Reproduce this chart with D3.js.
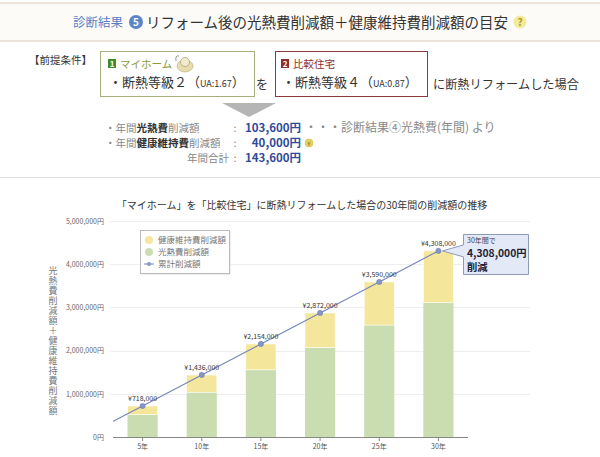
<!DOCTYPE html>
<html>
<head>
<meta charset="utf-8">
<script src="https://cdn.jsdelivr.net/npm/d3@7/dist/d3.min.js"></script>
<style>
  html, body { margin: 0; padding: 0; background: #fff; }
  svg { display: block; font-family: "Noto Sans CJK JP", "Noto Sans", sans-serif; }
</style>
</head>
<body>
<svg id="chart" width="600" height="457"></svg>
<script>
// chart data
var years = ['5年', '10年', '15年', '20年', '25年', '30年'];
var energySaving = [518000, 1036000, 1554000, 2072000, 2590000, 3108000];
var healthSaving = [200000, 400000, 600000, 800000, 1000000, 1200000];
var cumulative = [718000, 1436000, 2154000, 2872000, 3590000, 4308000];
var yTicks = [0, 1000000, 2000000, 3000000, 4000000, 5000000];
var legendLabels = ['健康維持費削減額', '光熱費削減額', '累計削減額'];

var GREEN = '#c9ddb1',
    YELLOW = '#f4e79c',
    LINE = '#7584b8';

var svg = d3.select('#chart');

/* ---------- header ---------- */
var head = svg.append('g');
head.append('rect').attr('x', 0).attr('y', 3).attr('width', 600).attr('height', 38).attr('fill', '#fdfbf7');
head.append('line').attr('x1', 0).attr('x2', 600).attr('y1', 3).attr('y2', 3).attr('stroke', '#e6dccb').attr('stroke-width', 1.5);
head.append('line').attr('x1', 0).attr('x2', 600).attr('y1', 41).attr('y2', 41).attr('stroke', '#e6dccb').attr('stroke-width', 1.5);

head.append('text').attr('x', 73).attr('y', 27).attr('font-size', 12.5).attr('fill', '#5a7ec6').text('診断結果');
head.append('circle').attr('cx', 136).attr('cy', 22).attr('r', 7).attr('fill', '#5b86c8');
head.append('text').attr('x', 136).attr('y', 26).attr('text-anchor', 'middle').attr('font-size', 10)
  .attr('font-weight', 'bold').attr('fill', '#fff').text('5');
head.append('text').attr('x', 146).attr('y', 27.5).attr('font-size', 14.5).attr('fill', '#333')
  .text('リフォーム後の光熱費削減額＋健康維持費削減額の目安');
head.append('circle').attr('cx', 520).attr('cy', 22).attr('r', 6.5).attr('fill', '#f3eb9c');
head.append('text').attr('x', 520).attr('y', 26).attr('text-anchor', 'middle').attr('font-size', 10)
  .attr('font-weight', 'bold').attr('fill', '#b29a2a').text('?');

/* ---------- premise ---------- */
var pre = svg.append('g');
pre.append('text').attr('x', 29).attr('y', 64).attr('font-size', 10.5).attr('fill', '#333').text('【前提条件】');

// box 1
pre.append('rect').attr('x', 100.5).attr('y', 51.5).attr('width', 154).attr('height', 45)
  .attr('fill', '#fff').attr('stroke', '#a6ae7c');
pre.append('rect').attr('x', 108).attr('y', 59).attr('width', 8).attr('height', 9).attr('fill', '#3f8a2c');
pre.append('text').attr('x', 112).attr('y', 66.5).attr('text-anchor', 'middle').attr('font-size', 8)
  .attr('font-weight', 'bold').attr('fill', '#fff').text('1');
pre.append('text').attr('x', 120).attr('y', 68).attr('font-size', 10.5).attr('fill', '#8c9a3a').text('マイホーム');
// small avatar icon
var ic = pre.append('g').attr('transform', 'translate(185,64)');
ic.append('ellipse').attr('rx', 8).attr('ry', 6).attr('cy', 2).attr('fill', '#e7dcae').attr('stroke', '#b8a874').attr('stroke-width', 0.6);
ic.append('circle').attr('r', 4.5).attr('cy', -2).attr('fill', '#f3ead0').attr('stroke', '#9c8f62').attr('stroke-width', 0.6);
ic.append('path').attr('d', 'M-9,-3 Q-10,-9 -6,-8').attr('fill', 'none').attr('stroke', '#777').attr('stroke-width', 0.8);
pre.append('text').attr('x', 109).attr('y', 87).attr('font-size', 13).attr('fill', '#333')
  .text('・断熱等級２（')
  .append('tspan').attr('font-size', 9).text('UA:1.67')
  .append('tspan').attr('font-size', 13).text('）');

pre.append('text').attr('x', 262).attr('y', 89).attr('text-anchor', 'middle').attr('font-size', 12).attr('fill', '#333').text('を');

// box 2
pre.append('rect').attr('x', 275.5).attr('y', 51.5).attr('width', 152).attr('height', 45)
  .attr('fill', '#fff').attr('stroke', '#8c3a3a');
pre.append('rect').attr('x', 281).attr('y', 59).attr('width', 8).attr('height', 9).attr('fill', '#8e2b2b');
pre.append('text').attr('x', 285).attr('y', 66.5).attr('text-anchor', 'middle').attr('font-size', 8)
  .attr('font-weight', 'bold').attr('fill', '#fff').text('2');
pre.append('text').attr('x', 293).attr('y', 68).attr('font-size', 10.5).attr('fill', '#8e2b2b').text('比較住宅');
pre.append('text').attr('x', 282).attr('y', 87).attr('font-size', 13).attr('fill', '#333')
  .text('・断熱等級４（')
  .append('tspan').attr('font-size', 9).text('UA:0.87')
  .append('tspan').attr('font-size', 13).text('）');

pre.append('text').attr('x', 433).attr('y', 89).attr('font-size', 12.2).attr('fill', '#333').text('に断熱リフォームした場合');

// arrow
pre.append('path').attr('d', 'M222,103 L276,103 L249,117 Z').attr('fill', '#b5b5b5');

/* ---------- summary ---------- */
var sum = svg.append('g').attr('font-size', 10.5);
var rows = [132, 147, 162];
function label(y, parts) {
  var t = sum.append('text').attr('x', 105).attr('y', y).attr('fill', '#888');
  parts.forEach(function(p) {
    t.append('tspan').attr('font-weight', p[1] ? 'bold' : null).attr('fill', p[1] ? '#333' : null).text(p[0]);
  });
}
label(rows[0], [['・年間', false], ['光熱費', true], ['削減額', false]]);
label(rows[1], [['・年間', false], ['健康維持費', true], ['削減額', false]]);
sum.append('text').attr('x', 229).attr('y', rows[2]).attr('text-anchor', 'end').attr('fill', '#888').text('年間合計');
rows.forEach(function(y) {
  sum.append('text').attr('x', 235).attr('y', y).attr('text-anchor', 'middle').attr('fill', '#888').text(':');
});
var annual = ['103,600円', '40,000円', '143,600円'];
annual.forEach(function(a, i) {
  sum.append('text').attr('x', 301).attr('y', rows[i]).attr('text-anchor', 'end').attr('font-size', 11.5)
    .attr('font-weight', 'bold').attr('fill', '#2f4a9a').text(a);
});
sum.append('text').attr('x', 305).attr('y', rows[0]).attr('font-size', 12).attr('fill', '#888').text('・・・診断結果④光熱費(年間) より');
sum.append('circle').attr('cx', 309).attr('cy', rows[1] - 4).attr('r', 4).attr('fill', '#e8d560').attr('stroke', '#c9b240').attr('stroke-width', 0.5);
sum.append('text').attr('x', 309).attr('y', rows[1] - 1.5).attr('text-anchor', 'middle').attr('font-size', 6).attr('fill', '#8a6d10').text('¥');

svg.append('line').attr('x1', 0).attr('x2', 600).attr('y1', 177.5).attr('y2', 177.5).attr('stroke', '#ddd');

/* ---------- chart ---------- */
svg.append('text').attr('x', 302).attr('y', 209).attr('text-anchor', 'middle').attr('font-size', 10)
  .attr('fill', '#333').text('「マイホーム」を「比較住宅」に断熱リフォームした場合の30年間の削減額の推移');

var plotLeft = 113, plotRight = 468, gridRight = 530;

var x = d3.scaleBand().domain(years).range([plotLeft, plotRight]).paddingInner(0.49).paddingOuter(0.245);
var y = d3.scaleLinear().domain([0, 5000000]).range([437, 221]);
var cx = function(d) { return x(d) + x.bandwidth() / 2; };

// grid
svg.append('g').selectAll('line').data(yTicks.slice(1)).join('line')
  .attr('x1', 110).attr('x2', gridRight)
  .attr('y1', function(d) { return Math.round(y(d)) + 0.5; })
  .attr('y2', function(d) { return Math.round(y(d)) + 0.5; })
  .attr('stroke', '#eeeeee');

// y axis labels
var yAxis = d3.axisLeft(y).tickValues(yTicks).tickSize(0).tickPadding(0)
  .tickFormat(function(d) { return d3.format(',')(d) + '円'; });
var ya = svg.append('g').attr('transform', 'translate(104,0)').call(yAxis);
ya.select('.domain').remove();
ya.selectAll('text').attr('font-size', 7).attr('fill', '#666').attr('font-family', '"Noto Sans CJK JP", sans-serif');

// y title, vertical text
svg.append('text')
  .attr('x', 53).attr('y', 266)
  .attr('font-size', 9).attr('fill', '#777')
  .style('writing-mode', 'vertical-rl')
  .style('text-orientation', 'upright')
  .style('letter-spacing', '1px')
  .text('光熱費削減額＋健康維持費削減額');

// bars
var bars = svg.append('g');
bars.selectAll('rect.e').data(years).join('rect').attr('class', 'e')
  .attr('x', function(d) { return x(d); })
  .attr('width', x.bandwidth())
  .attr('y', function(d, i) { return y(energySaving[i]); })
  .attr('height', function(d, i) { return y(0) - y(energySaving[i]); })
  .attr('fill', GREEN);
bars.selectAll('rect.h').data(years).join('rect').attr('class', 'h')
  .attr('x', function(d) { return x(d); })
  .attr('width', x.bandwidth())
  .attr('y', function(d, i) { return y(energySaving[i] + healthSaving[i]); })
  .attr('height', function(d, i) { return y(energySaving[i]) - y(energySaving[i] + healthSaving[i]); })
  .attr('fill', YELLOW)
  .attr('stroke', '#fff').attr('stroke-width', 0.6);

// x axis
var xAxis = d3.axisBottom(x).tickSize(4).tickPadding(3);
var xa = svg.append('g').attr('transform', 'translate(0,437)').call(xAxis);
xa.select('.domain').attr('stroke', '#888').attr('d', 'M' + plotLeft + ',0.5H' + plotRight);
xa.selectAll('.tick line').attr('stroke', '#888');
xa.selectAll('text').attr('font-size', 7).attr('fill', '#555').attr('font-family', '"Noto Sans CJK JP", sans-serif');

// cumulative line, starting from zero one step before 5年, clipped to the plot
svg.append('clipPath').attr('id', 'plotClip').append('rect')
  .attr('x', plotLeft).attr('y', 200).attr('width', gridRight - plotLeft).attr('height', 240);
var linePts = [[cx(years[0]) - x.step(), y(0)]].concat(years.map(function(d, i) { return [cx(d), y(cumulative[i])]; }));
svg.append('path').attr('clip-path', 'url(#plotClip)')
  .attr('d', d3.line()(linePts)).attr('fill', 'none').attr('stroke', LINE).attr('stroke-width', 1.1);
svg.append('g').selectAll('circle').data(years).join('circle')
  .attr('cx', cx).attr('cy', function(d, i) { return y(cumulative[i]); })
  .attr('r', 2.6).attr('fill', '#8595c6').attr('stroke', '#6676a8').attr('stroke-width', 0.5);
svg.append('g').selectAll('text').data(years).join('text')
  .attr('x', cx).attr('y', function(d, i) { return y(cumulative[i]) - 5; })
  .attr('text-anchor', 'middle').attr('font-size', 7).attr('fill', '#333')
  .text(function(d, i) { return '¥' + d3.format(',')(cumulative[i]); });

// legend
var lg = svg.append('g').attr('transform', 'translate(140,230)');
lg.append('rect').attr('x', 1.5).attr('y', 1.5).attr('width', 89).attr('height', 43).attr('fill', '#ddd');
lg.append('rect').attr('x', 0.5).attr('y', 0.5).attr('width', 89).attr('height', 43).attr('fill', '#fff').attr('stroke', '#bbb');
var lgColors = [YELLOW, GREEN];
lgColors.forEach(function(c, i) {
  lg.append('circle').attr('cx', 9).attr('cy', 10 + i * 12).attr('r', 4).attr('fill', c);
});
lg.append('line').attr('x1', 4).attr('x2', 14).attr('y1', 34).attr('y2', 34).attr('stroke', LINE);
lg.append('circle').attr('cx', 9).attr('cy', 34).attr('r', 2).attr('fill', '#8595c6');
legendLabels.forEach(function(t, i) {
  lg.append('text').attr('x', 18).attr('y', 13 + i * 12).attr('font-size', 8.5).attr('fill', '#777').text(t);
});

// callout for the 30-year total
var last = years.length - 1;
var tipX = cx(years[last]) + 4, tipY = y(cumulative[last]);
var co = svg.append('g');
co.append('path')
  .attr('d', 'M463.5,234.5 H528.5 V274.5 H463.5 V' + (tipY + 6) + ' L' + tipX + ',' + tipY + ' L463.5,' + (tipY - 6) + ' Z')
  .attr('fill', '#e3e9f6').attr('stroke', '#8d9bb9');
co.append('text').attr('x', 467).attr('y', 243).attr('font-size', 7).attr('fill', '#445').text('30年間で');
co.append('text').attr('x', 467).attr('y', 257).attr('font-size', 10.3).attr('font-weight', 'bold').attr('fill', '#223')
  .text(d3.format(',')(cumulative[last]) + '円');
co.append('text').attr('x', 467).attr('y', 271).attr('font-size', 10.3).attr('font-weight', 'bold').attr('fill', '#223').text('削減');
</script>
</body>
</html>
